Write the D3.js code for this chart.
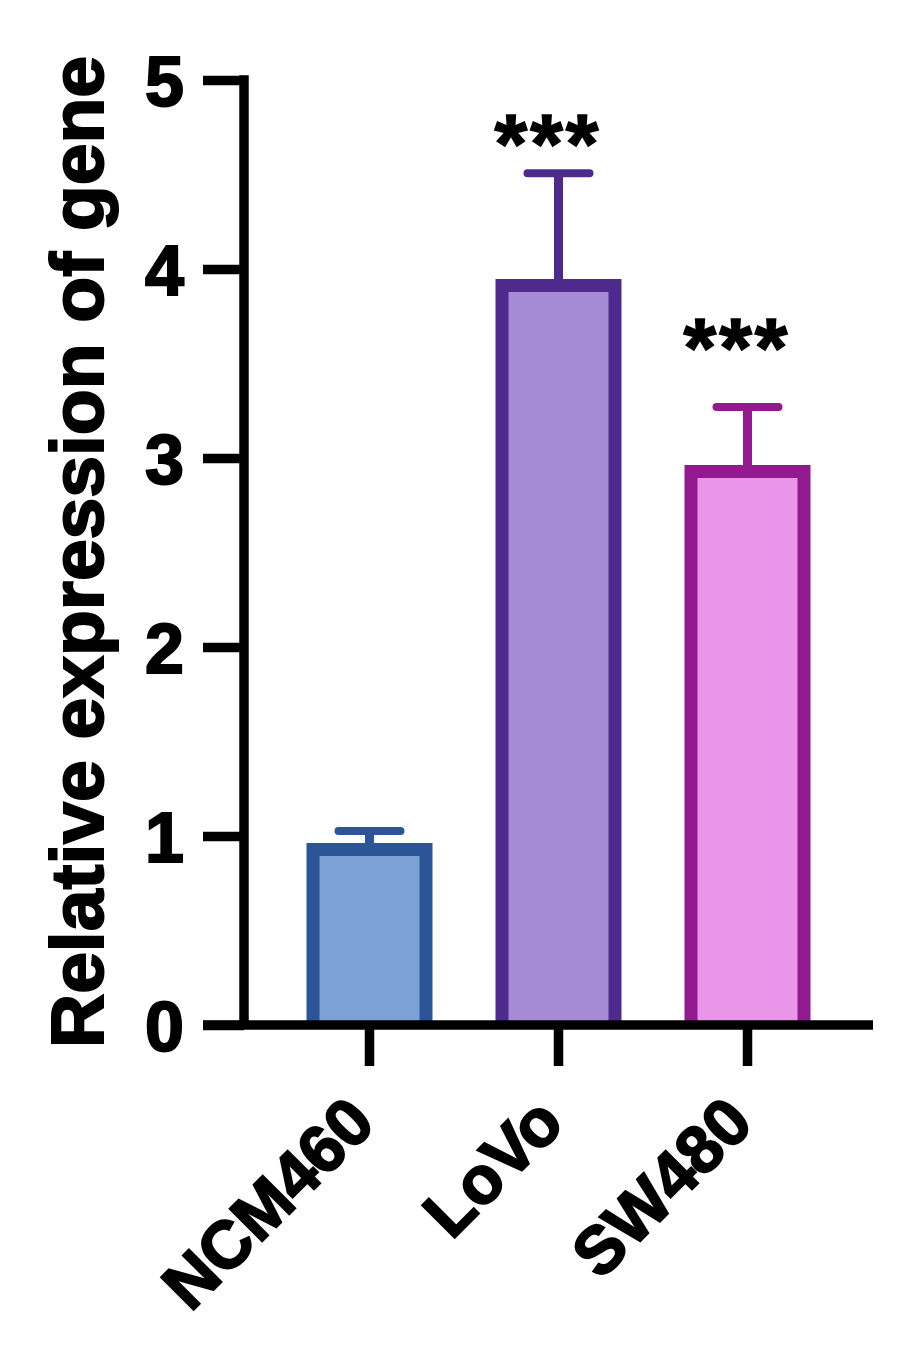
<!DOCTYPE html>
<html>
<head>
<meta charset="utf-8">
<script src="https://cdn.jsdelivr.net/npm/d3@7"></script>
<style>
  body { margin: 0; background: white; }
  text { font-family: "Liberation Sans", Arial, sans-serif; font-weight: bold; }
</style>
</head>
<body>
<div id="chart"></div>
<script>
// chart data
const categories = ["NCM460", "LoVo", "SW480"];
const means = [0.963, 3.947, 2.963];
const errors = [0.063, 0.56, 0.307];
const stars = ["", "***", "***"];
const starLevel = [null, 4.51, 3.43]; // baseline of the stars, in data units
const yTicks = [0, 1, 2, 3, 4, 5];

const strokes = ["#2b5597", "#4f2a8d", "#921a8e"];
const fills = ["#7ca1d5", "#a58bd3", "#e995e8"];

const width = 921, height = 1346;
const bw = 13; // bar border
const lineW = 9.5; // axis line width

const svg = d3.select("#chart").append("svg")
  .attr("width", width).attr("height", height);

const y = d3.scaleLinear().domain([0, 5]).range([1025, 80]);
const x = d3.scaleBand().domain(categories)
  .range([275, 842]).paddingInner(1 / 3).paddingOuter(1 / 6);

// bars
categories.forEach((c, i) => {
  const x0 = x(c), cx = x0 + x.bandwidth() / 2;
  const top = y(means[i]);
  const l = x0 + bw / 2, r = x0 + x.bandwidth() - bw / 2, t = top + bw / 2;

  // error bar (upper only)
  svg.append("line")
    .attr("x1", cx).attr("x2", cx)
    .attr("y1", top).attr("y2", y(means[i] + errors[i]))
    .attr("stroke", strokes[i]).attr("stroke-width", 9);
  svg.append("line")
    .attr("x1", cx - 31).attr("x2", cx + 31)
    .attr("y1", y(means[i] + errors[i])).attr("y2", y(means[i] + errors[i]))
    .attr("stroke", strokes[i]).attr("stroke-width", 8)
    .attr("stroke-linecap", "round");

  svg.append("rect")
    .attr("x", l).attr("y", t)
    .attr("width", r - l).attr("height", y(0) - t)
    .attr("fill", fills[i]);
  svg.append("path")
    .attr("d", `M${l},${y(0)}V${t}H${r}V${y(0)}`)
    .attr("fill", "none")
    .attr("stroke", strokes[i])
    .attr("stroke-width", bw)
    .attr("stroke-linejoin", "miter");

  if (stars[i]) {
    svg.append("text")
      .attr("x", cx - 12 + 1.5)
      .attr("y", y(starLevel[i]))
      .attr("text-anchor", "middle")
      .attr("font-size", 84)
      .attr("letter-spacing", 3)
      .attr("stroke", "black").attr("stroke-width", 1.5)
      .text(stars[i]);
  }
});

// y axis
const yAxis = svg.append("g")
  .attr("transform", "translate(244,0)")
  .call(d3.axisLeft(y).tickValues(yTicks).tickSize(41).tickPadding(19).tickFormat(d3.format("d")));
yAxis.select(".domain").attr("stroke", "black").attr("stroke-width", lineW)
  .attr("d", `M0,${y(5) - lineW / 2}V${y(0)}`);
yAxis.selectAll(".tick line").attr("stroke", "black").attr("stroke-width", lineW);
yAxis.selectAll(".tick text").attr("font-size", 70).attr("dy", "0.36em")
  .attr("fill", "black").attr("stroke", "black").attr("stroke-width", 2);

// x axis
const xAxis = svg.append("g")
  .attr("transform", `translate(0,${y(0)})`)
  .call(d3.axisBottom(x).tickSize(41).tickFormat(""));
xAxis.select(".domain").attr("stroke", "black").attr("stroke-width", lineW)
  .attr("d", "M203,0H873");
xAxis.selectAll(".tick line").attr("stroke", "black").attr("stroke-width", lineW);

// rotated category labels
svg.selectAll(".xlab")
  .data(categories)
  .enter().append("text")
  .attr("class", "xlab")
  .attr("text-anchor", "end")
  .attr("font-size", 67)
  .attr("stroke", "black").attr("stroke-width", 2)
  .attr("transform", d => `translate(${x(d) + x.bandwidth() / 2 + 8},${y(0) + 101}) rotate(-45)`)
  .text(d => d);

// y axis title
svg.append("text")
  .attr("text-anchor", "middle")
  .attr("font-size", 75)
  .attr("stroke", "black").attr("stroke-width", 2)
  .attr("transform", "translate(103,552) rotate(-90)")
  .text("Relative expression of gene");
</script>
</body>
</html>
